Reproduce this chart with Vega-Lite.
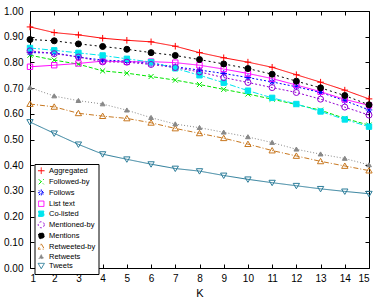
{
  "$schema": "https://vega.github.io/schema/vega-lite/v6.json",
  "width": 339,
  "height": 257,
  "autosize": "none",
  "padding": {"left": 30, "top": 11, "right": 20, "bottom": 37},
  "config": {
    "font": "Liberation Sans",
    "view": {"stroke": "#000000", "strokeWidth": 1},
    "axis": {"domain": false, "grid": false, "tickColor": "#000000", "tickSize": -4, "labelColor": "#000000", "labelFontSize": 10, "titleFontSize": 11, "titleFontWeight": "normal", "titleColor": "#000000"},
    "legend": {
      "orient": "none", "legendX": 4.5, "legendY": 153, "title": null,
      "labelFontSize": 7.5, "labelColor": "#000000",
      "symbolSize": 36, "symbolStrokeWidth": 1,
      "strokeColor": "#000000", "fillColor": "#ffffff", "padding": 3, "rowPadding": 0, "cornerRadius": 0
    }
  },
  "data": {"values": [
    {"series":"Aggregated","K":1,"value":0.938},{"series":"Aggregated","K":2,"value":0.916},{"series":"Aggregated","K":3,"value":0.907},{"series":"Aggregated","K":4,"value":0.894},{"series":"Aggregated","K":5,"value":0.886},{"series":"Aggregated","K":6,"value":0.880},{"series":"Aggregated","K":7,"value":0.863},{"series":"Aggregated","K":8,"value":0.838},{"series":"Aggregated","K":9,"value":0.818},{"series":"Aggregated","K":10,"value":0.801},{"series":"Aggregated","K":11,"value":0.781},{"series":"Aggregated","K":12,"value":0.752},{"series":"Aggregated","K":13,"value":0.723},{"series":"Aggregated","K":14,"value":0.692},{"series":"Aggregated","K":15,"value":0.658},
    {"series":"Followed-by","K":1,"value":0.828},{"series":"Followed-by","K":2,"value":0.809},{"series":"Followed-by","K":3,"value":0.793},{"series":"Followed-by","K":4,"value":0.767},{"series":"Followed-by","K":5,"value":0.758},{"series":"Followed-by","K":6,"value":0.745},{"series":"Followed-by","K":7,"value":0.731},{"series":"Followed-by","K":8,"value":0.714},{"series":"Followed-by","K":9,"value":0.695},{"series":"Followed-by","K":10,"value":0.677},{"series":"Followed-by","K":11,"value":0.657},{"series":"Followed-by","K":12,"value":0.636},{"series":"Followed-by","K":13,"value":0.614},{"series":"Followed-by","K":14,"value":0.582},{"series":"Followed-by","K":15,"value":0.556},
    {"series":"Follows","K":1,"value":0.838},{"series":"Follows","K":2,"value":0.837},{"series":"Follows","K":3,"value":0.821},{"series":"Follows","K":4,"value":0.809},{"series":"Follows","K":5,"value":0.805},{"series":"Follows","K":6,"value":0.796},{"series":"Follows","K":7,"value":0.783},{"series":"Follows","K":8,"value":0.770},{"series":"Follows","K":9,"value":0.757},{"series":"Follows","K":10,"value":0.741},{"series":"Follows","K":11,"value":0.724},{"series":"Follows","K":12,"value":0.705},{"series":"Follows","K":13,"value":0.683},{"series":"Follows","K":14,"value":0.651},{"series":"Follows","K":15,"value":0.615},
    {"series":"List text","K":1,"value":0.783},{"series":"List text","K":2,"value":0.789},{"series":"List text","K":3,"value":0.796},{"series":"List text","K":4,"value":0.805},{"series":"List text","K":5,"value":0.802},{"series":"List text","K":6,"value":0.803},{"series":"List text","K":7,"value":0.799},{"series":"List text","K":8,"value":0.789},{"series":"List text","K":9,"value":0.774},{"series":"List text","K":10,"value":0.757},{"series":"List text","K":11,"value":0.737},{"series":"List text","K":12,"value":0.712},{"series":"List text","K":13,"value":0.686},{"series":"List text","K":14,"value":0.656},{"series":"List text","K":15,"value":0.633},
    {"series":"Co-listed","K":1,"value":0.856},{"series":"Co-listed","K":2,"value":0.847},{"series":"Co-listed","K":3,"value":0.837},{"series":"Co-listed","K":4,"value":0.827},{"series":"Co-listed","K":5,"value":0.814},{"series":"Co-listed","K":6,"value":0.801},{"series":"Co-listed","K":7,"value":0.777},{"series":"Co-listed","K":8,"value":0.750},{"series":"Co-listed","K":9,"value":0.721},{"series":"Co-listed","K":10,"value":0.690},{"series":"Co-listed","K":11,"value":0.662},{"series":"Co-listed","K":12,"value":0.638},{"series":"Co-listed","K":13,"value":0.609},{"series":"Co-listed","K":14,"value":0.578},{"series":"Co-listed","K":15,"value":0.550},
    {"series":"Mentioned-by","K":1,"value":0.845},{"series":"Mentioned-by","K":2,"value":0.834},{"series":"Mentioned-by","K":3,"value":0.821},{"series":"Mentioned-by","K":4,"value":0.802},{"series":"Mentioned-by","K":5,"value":0.801},{"series":"Mentioned-by","K":6,"value":0.792},{"series":"Mentioned-by","K":7,"value":0.780},{"series":"Mentioned-by","K":8,"value":0.763},{"series":"Mentioned-by","K":9,"value":0.741},{"series":"Mentioned-by","K":10,"value":0.722},{"series":"Mentioned-by","K":11,"value":0.702},{"series":"Mentioned-by","K":12,"value":0.683},{"series":"Mentioned-by","K":13,"value":0.657},{"series":"Mentioned-by","K":14,"value":0.626},{"series":"Mentioned-by","K":15,"value":0.595},
    {"series":"Mentions","K":1,"value":0.889},{"series":"Mentions","K":2,"value":0.884},{"series":"Mentions","K":3,"value":0.872},{"series":"Mentions","K":4,"value":0.862},{"series":"Mentions","K":5,"value":0.851},{"series":"Mentions","K":6,"value":0.838},{"series":"Mentions","K":7,"value":0.827},{"series":"Mentions","K":8,"value":0.811},{"series":"Mentions","K":9,"value":0.794},{"series":"Mentions","K":10,"value":0.776},{"series":"Mentions","K":11,"value":0.754},{"series":"Mentions","K":12,"value":0.727},{"series":"Mentions","K":13,"value":0.701},{"series":"Mentions","K":14,"value":0.671},{"series":"Mentions","K":15,"value":0.635},
    {"series":"Retweeted-by","K":1,"value":0.638},{"series":"Retweeted-by","K":2,"value":0.627},{"series":"Retweeted-by","K":3,"value":0.602},{"series":"Retweeted-by","K":4,"value":0.591},{"series":"Retweeted-by","K":5,"value":0.582},{"series":"Retweeted-by","K":6,"value":0.565},{"series":"Retweeted-by","K":7,"value":0.543},{"series":"Retweeted-by","K":8,"value":0.524},{"series":"Retweeted-by","K":9,"value":0.505},{"series":"Retweeted-by","K":10,"value":0.482},{"series":"Retweeted-by","K":11,"value":0.457},{"series":"Retweeted-by","K":12,"value":0.436},{"series":"Retweeted-by","K":13,"value":0.415},{"series":"Retweeted-by","K":14,"value":0.397},{"series":"Retweeted-by","K":15,"value":0.379},
    {"series":"Retweets","K":1,"value":0.702},{"series":"Retweets","K":2,"value":0.669},{"series":"Retweets","K":3,"value":0.651},{"series":"Retweets","K":4,"value":0.638},{"series":"Retweets","K":5,"value":0.614},{"series":"Retweets","K":6,"value":0.585},{"series":"Retweets","K":7,"value":0.560},{"series":"Retweets","K":8,"value":0.546},{"series":"Retweets","K":9,"value":0.528},{"series":"Retweets","K":10,"value":0.510},{"series":"Retweets","K":11,"value":0.488},{"series":"Retweets","K":12,"value":0.462},{"series":"Retweets","K":13,"value":0.443},{"series":"Retweets","K":14,"value":0.426},{"series":"Retweets","K":15,"value":0.401},
    {"series":"Tweets","K":1,"value":0.568},{"series":"Tweets","K":2,"value":0.524},{"series":"Tweets","K":3,"value":0.481},{"series":"Tweets","K":4,"value":0.443},{"series":"Tweets","K":5,"value":0.423},{"series":"Tweets","K":6,"value":0.404},{"series":"Tweets","K":7,"value":0.387},{"series":"Tweets","K":8,"value":0.377},{"series":"Tweets","K":9,"value":0.360},{"series":"Tweets","K":10,"value":0.345},{"series":"Tweets","K":11,"value":0.332},{"series":"Tweets","K":12,"value":0.320},{"series":"Tweets","K":13,"value":0.308},{"series":"Tweets","K":14,"value":0.298},{"series":"Tweets","K":15,"value":0.289}
  ]},
  "resolve": {"axis": {"x": "independent", "y": "independent"}},
  "layer": [
    {
      "mark": {"type": "line", "strokeWidth": 1},
      "encoding": {
        "x": {"field": "K", "type": "quantitative", "scale": {"domain": [1, 15], "nice": false, "zero": false},
              "axis": {"orient": "bottom", "values": [1,2,3,4,5,6,7,8,9,10,11,12,13,14,15], "labelPadding": 9, "title": "K", "titlePadding": 4}},
        "y": {"field": "value", "type": "quantitative", "scale": {"domain": [0, 1], "nice": false},
              "axis": {"orient": "left", "values": [0,0.1,0.2,0.3,0.4,0.5,0.6,0.7,0.8,0.9,1.0], "format": ".2f", "labelPadding": 11, "title": null}},
        "stroke": {"field": "series", "type": "nominal",
          "legend": {"title": null, "orient": "none", "legendX": 4.5, "legendY": 153, "symbolSize": 36, "rowPadding": 0, "padding": 3, "labelFontSize": 7.5, "strokeColor": "#000000", "fillColor": "#ffffff"},
          "scale": {"domain": ["Aggregated","Followed-by","Follows","List text","Co-listed","Mentioned-by","Mentions","Retweeted-by","Retweets","Tweets"],
                    "range": ["#ff0000","#00e600","#0000ff","#ff00ff","#00e5ee","#9400d3","#000000","#c87820","#888888","#2b7c99"]}},
        "strokeDash": {"field": "series", "type": "nominal",
          "legend": {"title": null, "orient": "none", "legendX": 4.5, "legendY": 153, "symbolSize": 36, "rowPadding": 0, "padding": 3, "labelFontSize": 7.5, "strokeColor": "#000000", "fillColor": "#ffffff"},
          "scale": {"domain": ["Aggregated","Followed-by","Follows","List text","Co-listed","Mentioned-by","Mentions","Retweeted-by","Retweets","Tweets"],
                    "range": [[1,0],[4,2],[2,2],[1,0],[6,2,2,2],[2,2],[2,3],[5,2,1,2],[1,2],[1,0]]}}
      }
    },
    {
      "mark": {"type": "point", "strokeWidth": 1, "size": 36, "opacity": 1},
      "encoding": {
        "x": {"field": "K", "type": "quantitative", "scale": {"domain": [1, 15], "nice": false, "zero": false},
              "axis": {"orient": "top", "values": [1,2,3,4,5,6,7,8,9,10,11,12,13,14,15], "labels": false, "title": null}},
        "y": {"field": "value", "type": "quantitative", "scale": {"domain": [0, 1], "nice": false},
              "axis": {"orient": "right", "values": [0,0.1,0.2,0.3,0.4,0.5,0.6,0.7,0.8,0.9,1.0], "labels": false, "title": null}},
        "stroke": {"field": "series", "type": "nominal",
          "legend": {"title": null, "orient": "none", "legendX": 4.5, "legendY": 153, "symbolSize": 36, "rowPadding": 0, "padding": 3, "labelFontSize": 7.5, "strokeColor": "#000000", "fillColor": "#ffffff"}},
        "fill": {"field": "series", "type": "nominal",
          "legend": {"title": null, "orient": "none", "legendX": 4.5, "legendY": 153, "symbolSize": 36, "rowPadding": 0, "padding": 3, "labelFontSize": 7.5, "strokeColor": "#000000", "fillColor": "#ffffff"},
          "scale": {"domain": ["Aggregated","Followed-by","Follows","List text","Co-listed","Mentioned-by","Mentions","Retweeted-by","Retweets","Tweets"],
                    "range": ["transparent","transparent","transparent","transparent","#00e5ee","transparent","#000000","transparent","#888888","transparent"]}},
        "shape": {"field": "series", "type": "nominal",
          "legend": {"title": null, "orient": "none", "legendX": 4.5, "legendY": 153, "symbolSize": 36, "rowPadding": 0, "padding": 3, "labelFontSize": 7.5, "strokeColor": "#000000", "fillColor": "#ffffff"},
          "scale": {"domain": ["Aggregated","Followed-by","Follows","List text","Co-listed","Mentioned-by","Mentions","Retweeted-by","Retweets","Tweets"],
                    "range": ["M-1.1,0H1.1M0,-1.1V1.1","M-0.85,-0.85L0.85,0.85M-0.85,0.85L0.85,-0.85","M-1.1,0H1.1M0,-1.1V1.1M-0.8,-0.8L0.8,0.8M-0.8,0.8L0.8,-0.8","M-0.9,-0.9H0.9V0.9H-0.9Z","M-0.9,-0.9H0.9V0.9H-0.9Z","circle","circle","M0,-1L1.05,0.8H-1.05Z","M0,-0.75L0.8,0.6H-0.8Z","M0,1L1.05,-0.8H-1.05Z"]}}
      }
    }
  ]
}
